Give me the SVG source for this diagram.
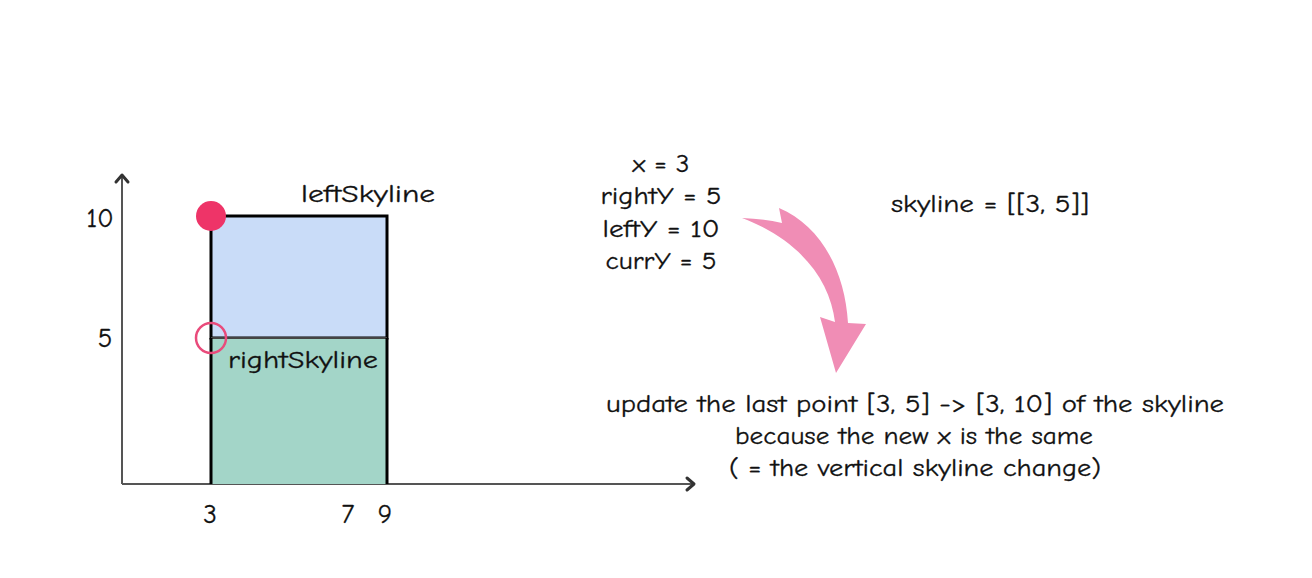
<svg xmlns="http://www.w3.org/2000/svg" width="1312" height="578" viewBox="0 0 1312 578">
<style>
text{font-family:"Comic Sans MS","Comic Neue","Open Sans","DejaVu Sans",sans-serif;fill:#111;font-size:25px;stroke:#111;stroke-width:0.3}
.m{text-anchor:middle}
.n{font-size:27px}
.axis{stroke:#555;stroke-width:2;fill:none}
.head{stroke:#333;stroke-width:3;fill:none;stroke-linecap:round;stroke-linejoin:round}
</style>
<rect width="1312" height="578" fill="#fff"/>
<g id="axes">
<line class="axis" x1="122" y1="484" x2="122" y2="176"/>
<polyline class="head" points="116,182 122,175 128,182"/>
<line class="axis" x1="122" y1="484" x2="692" y2="484"/>
<polyline class="head" points="687,478 694,484 687,490"/>
</g>
<g id="leftSkyline">
<rect x="211" y="216" width="176" height="122" fill="#c9dcf8" stroke="#000" stroke-width="3"/>
<text class="m" x="368" y="202" textLength="134" lengthAdjust="spacingAndGlyphs">leftSkyline</text>
</g>
<g id="rightSkyline">
<rect x="211" y="338" width="176" height="146" fill="#a3d5c8"/>
<line x1="211" y1="338" x2="387" y2="338" stroke="#444" stroke-width="2"/>
<line x1="211" y1="338" x2="211" y2="484" stroke="#000" stroke-width="3"/>
<line x1="387" y1="338" x2="387" y2="484" stroke="#000" stroke-width="3"/>
<text class="m" x="303" y="368" textLength="150" lengthAdjust="spacingAndGlyphs">rightSkyline</text>
</g>
<g id="points">
<circle cx="211" cy="216" r="15" fill="#ee3468"/>
<circle cx="211" cy="338" r="15" fill="none" stroke="#e94b7b" stroke-width="2.5"/>
</g>
<g id="labels">
<text class="m n" x="100" y="227" textLength="27" lengthAdjust="spacingAndGlyphs">10</text>
<text class="m n" x="105" y="347">5</text>
<text class="m n" x="210" y="523">3</text>
<text class="m n" x="348" y="523">7</text>
<text class="m n" x="385" y="523">9</text>
</g>
<g id="vars">
<text class="m" x="661" y="172" textLength="57" lengthAdjust="spacingAndGlyphs">x = 3</text>
<text class="m" x="661" y="204" textLength="121" lengthAdjust="spacingAndGlyphs">rightY = 5</text>
<text class="m" x="661" y="237" textLength="117" lengthAdjust="spacingAndGlyphs">leftY = 10</text>
<text class="m" x="661" y="269" textLength="111" lengthAdjust="spacingAndGlyphs">currY = 5</text>
</g>
<g id="skyline">
<text class="m" x="990" y="212" textLength="198" lengthAdjust="spacingAndGlyphs">skyline = [[3, 5]]</text>
</g>
<g id="connectors">
<path d="M742,218 Q765,219 782,223 L779,208 C820,225 845,270 848,323 L866,324 L836,373 L820,317 L835,322 C830,280 800,240 742,218 Z" fill="#f08db5"/>
</g>
<g id="note">
<text class="m" x="915" y="412" textLength="618" lengthAdjust="spacingAndGlyphs">update the last point [3, 5] -&gt; [3, 10] of the skyline</text>
<text class="m" x="914" y="444" textLength="358" lengthAdjust="spacingAndGlyphs">because the new x is the same</text>
<text class="m" x="915" y="476" textLength="372" lengthAdjust="spacingAndGlyphs">( = the vertical skyline change)</text>
</g>
</svg>
